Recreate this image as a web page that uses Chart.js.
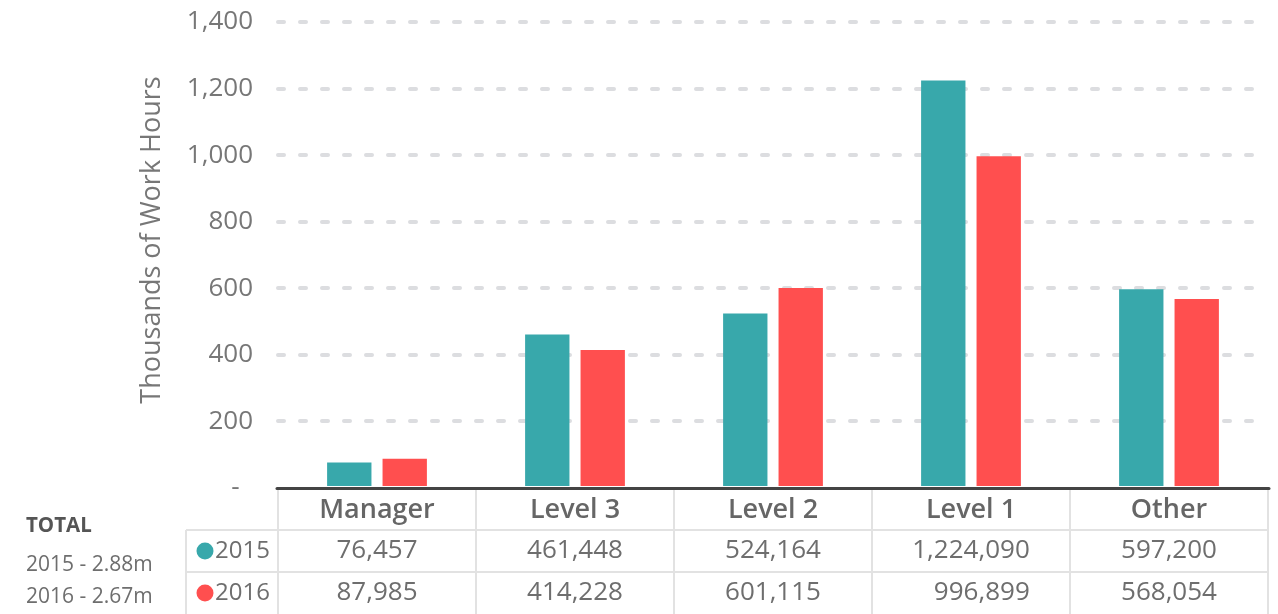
<!DOCTYPE html>
<html>
<head>
<meta charset="utf-8">
<script src="https://cdn.jsdelivr.net/npm/chart.js@4.4.1/dist/chart.umd.min.js"></script>
<style>
  html, body { margin: 0; padding: 0; background: #fff; }
  #wrap { width: 1278px; height: 614px; position: relative; }
</style>
</head>
<body>
<div id="wrap"><canvas id="hoursChart" width="1278" height="614"></canvas></div>
<script>
// Chart data (work hours by level)
const categories = ["Manager", "Level 3", "Level 2", "Level 1", "Other"];
const years = ["2015", "2016"];
const hours2015 = [76457, 461448, 524164, 1224090, 597200];
const hours2016 = [87985, 414228, 601115, 996899, 568054];
const yTicks = [0, 200, 400, 600, 800, 1000, 1200, 1400];

const teal = "#38a8ab";
const red = "#ff4f4f";
const textGray = "#6e6e6e";
const lineGray = "#e2e2e2";
const font = "'Open Sans', sans-serif";

const fmt = v => v.toLocaleString("en-US");
const total = arr => (arr.reduce((a, b) => a + b, 0) / 1e6).toFixed(2) + "m";

// draws the data table under the x axis + left summary
const tablePlugin = {
  id: "tablePlugin",
  beforeDraw(chart) {
    chart.ctx.lineCap = "round";
  },
  afterDraw(chart) {
    const ctx = chart.ctx;
    const xs = chart.scales.x;
    const area = chart.chartArea;
    const colW = (area.right - area.left) / categories.length;
    const rowTop = area.bottom + 42;
    const rowH = 42;
    const leftCell = area.left - 92;

    ctx.save();
    ctx.lineCap = "butt";
    ctx.strokeStyle = lineGray;
    ctx.lineWidth = 2;
    ctx.setLineDash([]);
    // vertical lines
    for (let i = 0; i <= categories.length; i++) {
      const x = area.left + i * colW;
      ctx.beginPath();
      ctx.moveTo(x, area.bottom + 2);
      ctx.lineTo(x, chart.height);
      ctx.stroke();
    }
    ctx.beginPath();
    ctx.moveTo(leftCell, rowTop);
    ctx.lineTo(leftCell, chart.height);
    ctx.stroke();
    // horizontal lines
    [rowTop, rowTop + rowH].forEach(y => {
      ctx.beginPath();
      ctx.moveTo(leftCell, y);
      ctx.lineTo(area.right, y);
      ctx.stroke();
    });

    // rows
    const rows = [hours2015, hours2016];
    const colors = [teal, red];
    ctx.textBaseline = "middle";
    rows.forEach((row, r) => {
      const cy = rowTop + rowH * r + rowH / 2;
      ctx.fillStyle = colors[r];
      ctx.beginPath();
      ctx.arc(leftCell + 19, cy, 8.5, 0, Math.PI * 2);
      ctx.fill();
      ctx.fillStyle = textGray;
      ctx.font = "24px " + font;
      ctx.textAlign = "left";
      ctx.fillText(years[r], leftCell + 29, cy);
    });
    ctx.font = "26px " + font;
    ctx.textAlign = "right";
    categories.forEach((c, i) => {
      const cx = xs.getPixelForValue(i);
      const w = Math.max(ctx.measureText(fmt(hours2015[i])).width, ctx.measureText(fmt(hours2016[i])).width);
      rows.forEach((row, r) => {
        const cy = rowTop + rowH * r + rowH / 2;
        ctx.fillText(fmt(row[i]), cx + w / 2, cy);
      });
    });

    // totals block on the left
    ctx.textAlign = "left";
    ctx.fillStyle = "#555";
    ctx.font = "bold 20.5px " + font;
    ctx.fillText("TOTAL", 26, 526);
    ctx.fillStyle = textGray;
    ctx.font = "21px " + font;
    ctx.fillText("2015 - " + total(hours2015), 26, 565);
    ctx.fillText("2016 - " + total(hours2016), 26, 597);

    // y axis title
    ctx.translate(152, 240);
    ctx.rotate(-Math.PI / 2);
    ctx.textAlign = "center";
    ctx.font = "27px " + font;
    ctx.fillStyle = "#777";
    ctx.fillText("Thousands of Work Hours", 0, 0);
    ctx.restore();
  }
};

new Chart(document.getElementById("hoursChart"), {
  type: "bar",
  data: {
    labels: categories,
    datasets: [
      { label: years[0], data: hours2015.map(v => v / 1000), backgroundColor: teal },
      { label: years[1], data: hours2016.map(v => v / 1000), backgroundColor: red }
    ]
  },
  options: {
    responsive: false,
    animation: false,
    layout: { padding: { top: 22, right: 10, left: 0, bottom: 0 } },
    categoryPercentage: 0.56,
    barPercentage: 0.8,
    plugins: {
      legend: { display: false },
      tooltip: { enabled: false }
    },
    scales: {
      x: {
        grid: { display: false, drawTicks: false },
        border: { display: true, color: "#444", width: 3 },
        ticks: {
          color: "#666",
          padding: 6,
          font: { family: font, size: 27, weight: "600" }
        },
        afterFit(scale) { scale.height = 126; scale.paddingLeft = 0; scale.paddingRight = 0; }
      },
      y: {
        min: 0,
        max: 1400,
        afterBuildTicks(scale) { scale.ticks = yTicks.map(v => ({ value: v })); },
        grid: {
          drawTicks: false,
          color: ctx => ctx.tick && ctx.tick.value === 0 ? "rgba(0,0,0,0)" : "#dcdde0",
          lineWidth: 4
        },
        border: { display: false, dash: [6, 16] },
        ticks: {
          color: "#777",
          padding: 25,
          font: { family: font, size: 26 },
          callback: v => v === 0 ? "-  " : fmt(v)
        },
        afterFit(scale) { scale.width = 278; scale.paddingTop = 0; scale.paddingBottom = 0; }
      }
    }
  },
  plugins: [tablePlugin]
});
</script>
</body>
</html>
